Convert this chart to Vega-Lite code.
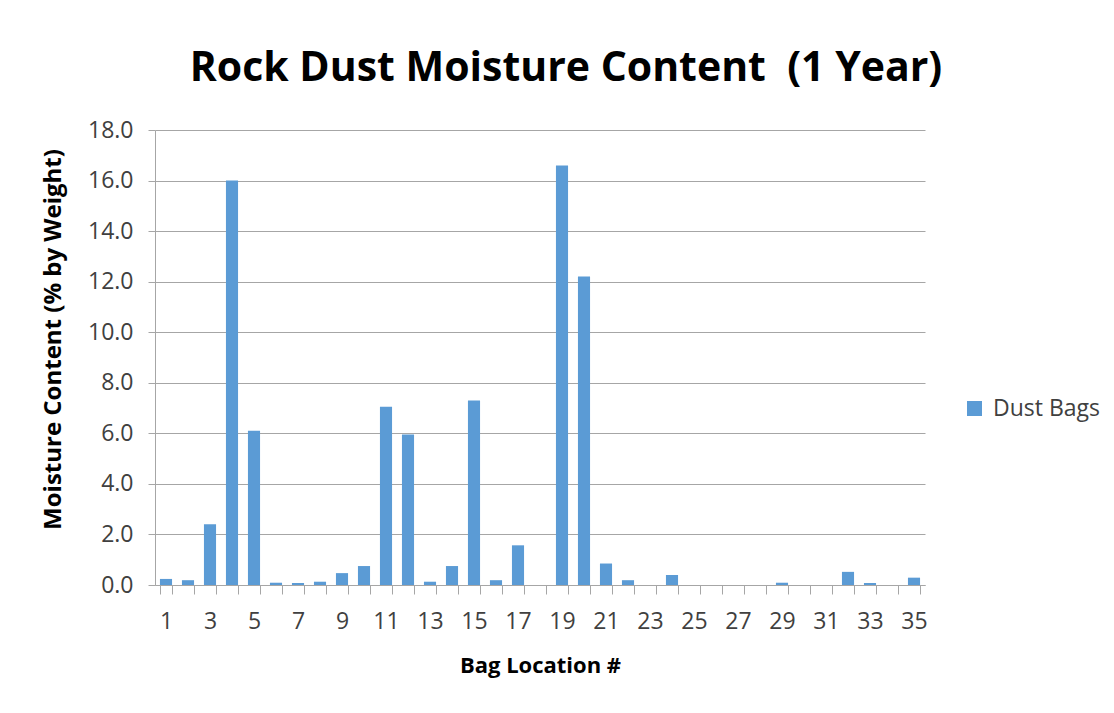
{
  "$schema": "https://vega.github.io/schema/vega-lite/v6.json",
  "width": 770,
  "height": 455,
  "autosize": "none",
  "padding": {"left": 155, "top": 130, "right": 189, "bottom": 128},
  "background": "white",
  "title": {
    "text": "Rock Dust Moisture Content \u00a0(1 Year)",
    "font": "Open Sans",
    "fontSize": 41,
    "fontWeight": "bold",
    "color": "#000000",
    "anchor": "middle",
    "dx": 26,
    "offset": 29
  },
  "data": {
    "values": [
      {"bag": 1, "v": 0.24, "s": "Dust Bags"},
      {"bag": 2, "v": 0.19, "s": "Dust Bags"},
      {"bag": 3, "v": 2.4, "s": "Dust Bags"},
      {"bag": 4, "v": 16.0, "s": "Dust Bags"},
      {"bag": 5, "v": 6.1, "s": "Dust Bags"},
      {"bag": 6, "v": 0.09, "s": "Dust Bags"},
      {"bag": 7, "v": 0.08, "s": "Dust Bags"},
      {"bag": 8, "v": 0.13, "s": "Dust Bags"},
      {"bag": 9, "v": 0.47, "s": "Dust Bags"},
      {"bag": 10, "v": 0.75, "s": "Dust Bags"},
      {"bag": 11, "v": 7.05, "s": "Dust Bags"},
      {"bag": 12, "v": 5.95, "s": "Dust Bags"},
      {"bag": 13, "v": 0.13, "s": "Dust Bags"},
      {"bag": 14, "v": 0.75, "s": "Dust Bags"},
      {"bag": 15, "v": 7.3, "s": "Dust Bags"},
      {"bag": 16, "v": 0.19, "s": "Dust Bags"},
      {"bag": 17, "v": 1.57, "s": "Dust Bags"},
      {"bag": 18, "v": 0, "s": "Dust Bags"},
      {"bag": 19, "v": 16.6, "s": "Dust Bags"},
      {"bag": 20, "v": 12.2, "s": "Dust Bags"},
      {"bag": 21, "v": 0.85, "s": "Dust Bags"},
      {"bag": 22, "v": 0.19, "s": "Dust Bags"},
      {"bag": 23, "v": 0, "s": "Dust Bags"},
      {"bag": 24, "v": 0.4, "s": "Dust Bags"},
      {"bag": 25, "v": 0, "s": "Dust Bags"},
      {"bag": 26, "v": 0, "s": "Dust Bags"},
      {"bag": 27, "v": 0, "s": "Dust Bags"},
      {"bag": 28, "v": 0, "s": "Dust Bags"},
      {"bag": 29, "v": 0.09, "s": "Dust Bags"},
      {"bag": 30, "v": 0, "s": "Dust Bags"},
      {"bag": 31, "v": 0, "s": "Dust Bags"},
      {"bag": 32, "v": 0.52, "s": "Dust Bags"},
      {"bag": 33, "v": 0.08, "s": "Dust Bags"},
      {"bag": 34, "v": 0, "s": "Dust Bags"},
      {"bag": 35, "v": 0.29, "s": "Dust Bags"}
    ]
  },
  "mark": {"type": "bar"},
  "encoding": {
    "x": {
      "field": "bag",
      "type": "ordinal",
      "sort": null,
      "scale": {"paddingInner": 0.45, "paddingOuter": 0.225},
      "axis": {
        "title": "Bag Location #",
        "titleFont": "Open Sans",
        "titleFontSize": 22,
        "titleFontWeight": "bold",
        "titleColor": "#000000",
        "titlePadding": 22,
        "labelExpr": "datum.value % 2 == 1 ? datum.label : ''",
        "labelOverlap": false,
        "labelAngle": 0,
        "labelFont": "Open Sans",
        "labelFontSize": 23,
        "labelColor": "#404040",
        "labelPadding": 16,
        "tickBand": "extent",
        "tickSize": 9,
        "tickColor": "#A6A6A6",
        "domainColor": "#A6A6A6",
        "grid": false
      }
    },
    "y": {
      "field": "v",
      "type": "quantitative",
      "scale": {"domain": [0, 18]},
      "axis": {
        "title": "Moisture Content (% by Weight)",
        "titleFont": "Open Sans",
        "titleFontSize": 24,
        "titleFontWeight": "bold",
        "titleColor": "#000000",
        "titlePadding": 22,
        "titleY": 209,
        "values": [0, 2, 4, 6, 8, 10, 12, 14, 16, 18],
        "format": ".1f",
        "labelFont": "Open Sans",
        "labelFontSize": 23,
        "labelColor": "#404040",
        "labelPadding": 15,
        "tickSize": 7,
        "tickColor": "#A6A6A6",
        "domainColor": "#A6A6A6",
        "gridColor": "#A6A6A6",
        "grid": true
      }
    },
    "color": {
      "field": "s",
      "type": "nominal",
      "scale": {"range": ["#5B9BD5"]},
      "legend": {
        "title": null,
        "orient": "none",
        "legendX": 808,
        "legendY": 267,
        "symbolType": "square",
        "symbolSize": 225,
        "symbolStrokeWidth": 0,
        "labelFont": "Open Sans",
        "labelFontSize": 23,
        "labelColor": "#404040",
        "labelOffset": 7
      }
    }
  },
  "config": {
    "view": {"stroke": null}
  }
}
